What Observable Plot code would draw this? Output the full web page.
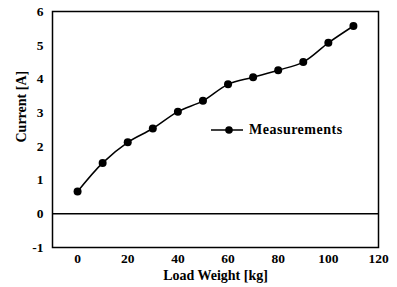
<!DOCTYPE html>
<html>
<head>
<meta charset="utf-8">
<script src="https://cdn.jsdelivr.net/npm/d3@7"></script>
<script src="https://cdn.jsdelivr.net/npm/@observablehq/plot@0.6"></script>
<style>
  html, body { margin: 0; padding: 0; background: #fff; }
  #wrap { position: relative; width: 397px; height: 287px; }
  #legend { position: absolute; left: 211px; top: 122px; display: flex; align-items: center;
    font-family: "Liberation Serif", "Times New Roman", serif; font-weight: bold; font-size: 14px; letter-spacing: 0.5px; color: #000; }
  #legend svg { margin-right: 6px; }
</style>
</head>
<body>
<div id="wrap"><div id="legend"></div></div>
<script>
const loadWeight = [0, 10, 20, 30, 40, 50, 60, 70, 80, 90, 100, 110];
const current = [0.66, 1.51, 2.12, 2.53, 3.03, 3.35, 3.84, 4.05, 4.26, 4.50, 5.07, 5.57];
const xTicks = [0, 20, 40, 60, 80, 100, 120];
const yTicks = [-1, 0, 1, 2, 3, 4, 5, 6];
const seriesName = "Measurements";

const data = loadWeight.map((x, i) => ({x, y: current[i]}));
const font = "Liberation Serif, Times New Roman, serif";
const fmt = d => String(d);

const chart = Plot.plot({
  width: 397,
  height: 287,
  marginLeft: 52,
  marginRight: 19,
  marginTop: 11,
  marginBottom: 40,
  style: {fontFamily: font, fontWeight: "bold", fontSize: "13.5px", color: "#000", background: "#fff"},
  x: {domain: [-10, 120]},
  y: {domain: [-1, 6]},
  marks: [
    Plot.frame({stroke: "#000", strokeWidth: 1.5}),
    Plot.ruleY([0], {stroke: "#000", strokeWidth: 1.5}),
    Plot.axisX({ticks: xTicks, tickSize: 0, tickPadding: 6, tickFormat: fmt, label: null, fontSize: 13.5}),
    Plot.axisY({ticks: yTicks, tickSize: 0, tickPadding: 9, tickFormat: fmt, label: null, fontSize: 13.5}),
    Plot.text(["Load Weight [kg]"], {frameAnchor: "bottom", dy: 32, text: d => d, fontSize: 14, fontWeight: "bold", letterSpacing: "0.6px"}),
    Plot.text(["Current [A]"], {frameAnchor: "left", dx: -31, dy: 13, rotate: -90, text: d => d, fontSize: 14, fontWeight: "bold", letterSpacing: "0.6px"}),
    Plot.line(data, {x: "x", y: "y", curve: "catmull-rom", stroke: "#000", strokeWidth: 1.5}),
    Plot.dot(data, {x: "x", y: "y", r: 4, fill: "#000", stroke: "none"})
  ]
});
document.getElementById("wrap").prepend(chart);

const leg = document.getElementById("legend");
leg.innerHTML = `<svg width="32" height="10"><line x1="0" y1="5" x2="32" y2="5" stroke="#000" stroke-width="1.5"/><circle cx="18" cy="5" r="3.8" fill="#000"/></svg><span>${seriesName}</span>`;
</script>
</body>
</html>
